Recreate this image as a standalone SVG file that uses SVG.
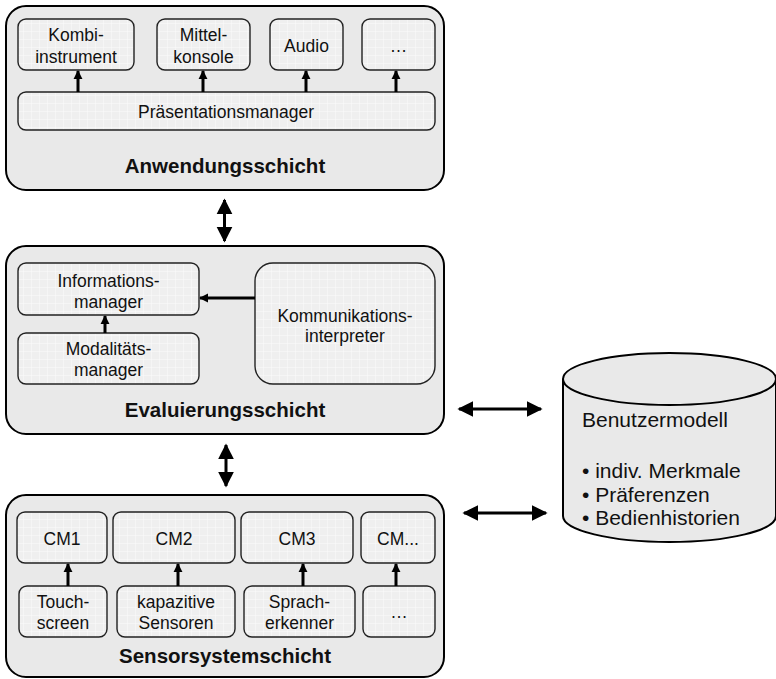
<svg xmlns="http://www.w3.org/2000/svg" width="776" height="679" viewBox="0 0 776 679">
  <defs>
    <pattern id="grid" width="8" height="8" patternUnits="userSpaceOnUse">
      <rect width="8" height="8" fill="#efefef"/>
      <path d="M8 0V8M0 8H8" stroke="#fbfbfb" stroke-width="1"/>
    </pattern>
    <marker id="tip" viewBox="0 0 10 10" refX="9" refY="5" markerUnits="userSpaceOnUse" markerWidth="9" markerHeight="10" orient="auto">
      <path d="M0 0L10 5L0 10Z" fill="#000"/>
    </marker>
    <marker id="big" viewBox="0 0 10 10" refX="9" refY="5" markerUnits="userSpaceOnUse" markerWidth="16" markerHeight="17" orient="auto-start-reverse">
      <path d="M0 0L10 5L0 10Z" fill="#000"/>
    </marker>
  </defs>
  <style>
    .layer { fill: #e9e9e9; stroke: #000; stroke-width: 2; }
    .box { fill: url(#grid); stroke: #222; stroke-width: 1.4; }
    text { font-family: "Liberation Sans", Arial, sans-serif; fill: #111; }
    .t { font-size: 17.5px; text-anchor: middle; }
    .h { font-size: 20.5px; font-weight: bold; text-anchor: middle; }
    .db { font-size: 21px; }
    .a { stroke: #000; stroke-width: 3; fill: none; marker-end: url(#tip); }
    .ab { stroke: #000; stroke-width: 3; fill: none; marker-start: url(#big); marker-end: url(#big); }
  </style>

  <!-- application layer -->
  <g id="anwendungsschicht">
    <rect class="layer" x="6" y="6" width="438" height="184" rx="20"/>
    <text class="h" x="225" y="173">Anwendungsschicht</text>
  </g>
  <g id="kombiinstrument">
    <rect class="box" x="18" y="19" width="116" height="51" rx="8"/>
    <text class="t" x="76" y="40.5">Kombi-</text>
    <text class="t" x="76" y="62.5">instrument</text>
  </g>
  <g id="mittelkonsole">
    <rect class="box" x="157" y="19" width="93" height="51" rx="8"/>
    <text class="t" x="203.5" y="40.5">Mittel-</text>
    <text class="t" x="203.5" y="62.5">konsole</text>
  </g>
  <g id="audio">
    <rect class="box" x="270" y="19" width="73" height="51" rx="8"/>
    <text class="t" x="306.5" y="51.5">Audio</text>
  </g>
  <g id="weitere-ausgaben">
    <rect class="box" x="362" y="19" width="73" height="51" rx="8"/>
    <text class="t" x="398.5" y="51.5">…</text>
  </g>
  <g id="praesentationsmanager">
    <rect class="box" x="18" y="92" width="417" height="38" rx="8"/>
    <text class="t" x="226" y="118">Präsentationsmanager</text>
  </g>

  <!-- evaluation layer -->
  <g id="evaluierungsschicht">
    <rect class="layer" x="6" y="246" width="438" height="188" rx="20"/>
    <text class="h" x="225" y="417">Evaluierungsschicht</text>
  </g>
  <g id="informationsmanager">
    <rect class="box" x="18" y="263" width="181" height="52" rx="8"/>
    <text class="t" x="108.5" y="287">Informations-</text>
    <text class="t" x="108.5" y="307.5">manager</text>
  </g>
  <g id="modalitaetsmanager">
    <rect class="box" x="18" y="333" width="181" height="51" rx="8"/>
    <text class="t" x="108.5" y="355">Modalitäts-</text>
    <text class="t" x="108.5" y="376">manager</text>
  </g>
  <g id="kommunikationsinterpreter">
    <rect class="box" x="255" y="263" width="180" height="121" rx="18"/>
    <text class="t" x="345" y="322">Kommunikations-</text>
    <text class="t" x="345" y="342">interpreter</text>
  </g>

  <!-- sensor system layer -->
  <g id="sensorsystemschicht">
    <rect class="layer" x="6" y="495" width="438" height="182" rx="20"/>
    <text class="h" x="225" y="663">Sensorsystemschicht</text>
  </g>
  <g id="cm1">
    <rect class="box" x="17" y="512" width="90" height="51" rx="8"/>
    <text class="t" x="62" y="545">CM1</text>
  </g>
  <g id="cm2">
    <rect class="box" x="113" y="512" width="122" height="51" rx="8"/>
    <text class="t" x="174" y="545">CM2</text>
  </g>
  <g id="cm3">
    <rect class="box" x="241" y="512" width="112" height="51" rx="8"/>
    <text class="t" x="297" y="545">CM3</text>
  </g>
  <g id="cm-weitere">
    <rect class="box" x="361" y="512" width="74" height="51" rx="8"/>
    <text class="t" x="398" y="545">CM...</text>
  </g>
  <g id="touchscreen">
    <rect class="box" x="19" y="586" width="88" height="51" rx="8"/>
    <text class="t" x="63" y="608">Touch-</text>
    <text class="t" x="63" y="629">screen</text>
  </g>
  <g id="kapazitive-sensoren">
    <rect class="box" x="117" y="586" width="118" height="51" rx="8"/>
    <text class="t" x="176" y="608">kapazitive</text>
    <text class="t" x="176" y="629">Sensoren</text>
  </g>
  <g id="spracherkenner">
    <rect class="box" x="244" y="586" width="111" height="51" rx="8"/>
    <text class="t" x="299.5" y="608">Sprach-</text>
    <text class="t" x="299.5" y="629">erkenner</text>
  </g>
  <g id="weitere-sensoren">
    <rect class="box" x="363" y="586" width="72" height="51" rx="8"/>
    <text class="t" x="399" y="618">…</text>
  </g>

  <!-- user model store -->
  <g id="benutzermodell">
    <path d="M563 379V516A106.5 26 0 0 0 776 516V379" fill="#e9e9e9" stroke="#000" stroke-width="2"/>
    <ellipse cx="669.5" cy="379" rx="106.5" ry="26" fill="#e9e9e9" stroke="#000" stroke-width="2"/>
    <text class="db" x="582" y="427">Benutzermodell</text>
    <text class="db" x="582" y="478">• indiv. Merkmale</text>
    <text class="db" x="582" y="502">• Präferenzen</text>
    <text class="db" x="582" y="525">• Bedienhistorien</text>
  </g>

  <!-- connectors -->
  <g id="connectors">
    <line class="a" x1="78" y1="92" x2="78" y2="71"/>
    <line class="a" x1="203" y1="92" x2="203" y2="71"/>
    <line class="a" x1="306" y1="92" x2="306" y2="71"/>
    <line class="a" x1="396" y1="92" x2="396" y2="71"/>

    <line class="a" x1="255" y1="298" x2="200" y2="298"/>
    <line class="a" x1="105" y1="333" x2="105" y2="316"/>

    <line class="a" x1="68" y1="586" x2="68" y2="564"/>
    <line class="a" x1="178" y1="586" x2="178" y2="564"/>
    <line class="a" x1="303" y1="586" x2="303" y2="564"/>
    <line class="a" x1="396" y1="586" x2="396" y2="564"/>

    <line class="ab" x1="224.5" y1="200" x2="224.5" y2="241"/>
    <line class="ab" x1="226" y1="445" x2="226" y2="486"/>
    <line class="ab" x1="459" y1="409" x2="541" y2="409"/>
    <line class="ab" x1="464" y1="513" x2="546" y2="513"/>
  </g>
</svg>
